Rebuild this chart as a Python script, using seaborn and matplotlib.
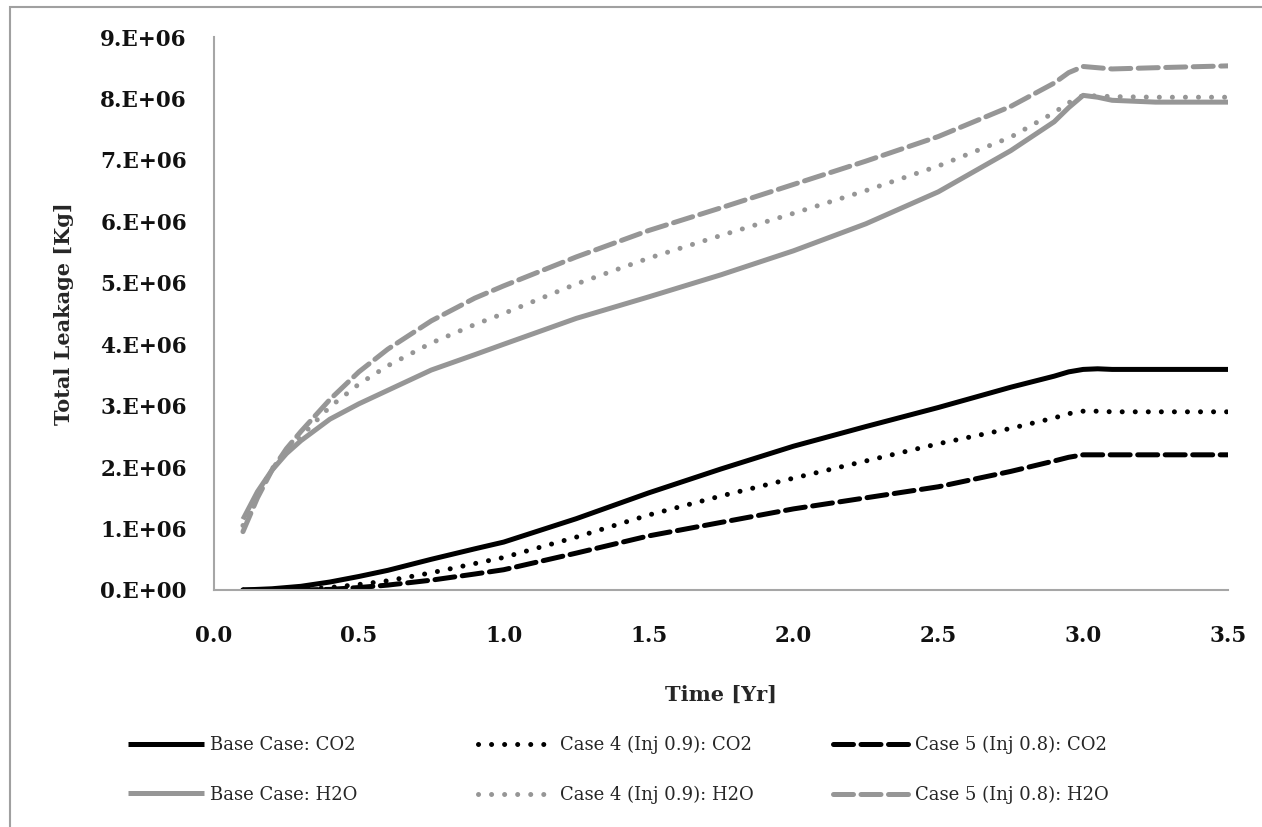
import matplotlib.pyplot as plt
import seaborn as sns
import pandas as pd
from matplotlib.patches import Rectangle
from matplotlib.ticker import FuncFormatter, MultipleLocator

# time axis [yr]
time_yr = [0.1, 0.15, 0.2, 0.25, 0.3, 0.4, 0.5, 0.6, 0.75, 0.9, 1.0, 1.25,
           1.5, 1.75, 2.0, 2.25, 2.5, 2.75, 2.9, 2.95, 3.0, 3.05, 3.1, 3.25, 3.5]

# total leakage [kg] (in millions)
base_co2 = [0.0, 0.01, 0.02, 0.04, 0.06, 0.13, 0.22, 0.32, 0.5, 0.67, 0.78, 1.16,
            1.58, 1.97, 2.34, 2.66, 2.97, 3.3, 3.48, 3.55, 3.59, 3.6, 3.59, 3.59, 3.59]
case4_co2 = [0.0, 0.0, 0.0, 0.0, 0.01, 0.04, 0.09, 0.15, 0.28, 0.43, 0.53, 0.86,
             1.22, 1.53, 1.82, 2.1, 2.38, 2.63, 2.8, 2.87, 2.91, 2.91, 2.9, 2.9, 2.9]
case5_co2 = [0.0, 0.0, 0.0, 0.0, 0.0, 0.01, 0.04, 0.08, 0.16, 0.26, 0.33, 0.6,
             0.88, 1.1, 1.32, 1.5, 1.68, 1.93, 2.1, 2.16, 2.2, 2.2, 2.2, 2.2, 2.2]
base_h2o = [1.15, 1.6, 1.95, 2.22, 2.43, 2.78, 3.03, 3.25, 3.58, 3.83, 4.0, 4.42,
            4.77, 5.13, 5.52, 5.96, 6.48, 7.15, 7.62, 7.85, 8.05, 8.02, 7.97, 7.94, 7.94]
case4_h2o = [1.05, 1.55, 1.97, 2.27, 2.5, 2.98, 3.35, 3.65, 4.02, 4.32, 4.5, 4.98,
             5.4, 5.77, 6.13, 6.5, 6.9, 7.37, 7.77, 7.93, 8.05, 8.04, 8.03, 8.02, 8.02]
case5_h2o = [0.95, 1.5, 1.95, 2.3, 2.58, 3.1, 3.55, 3.92, 4.38, 4.75, 4.95, 5.42,
             5.85, 6.22, 6.6, 6.98, 7.38, 7.87, 8.25, 8.42, 8.52, 8.5, 8.48, 8.5, 8.53]

labels = ["Base Case: CO2", "Base Case: H2O",
          "Case 4 (Inj 0.9): CO2", "Case 4 (Inj 0.9): H2O",
          "Case 5 (Inj 0.8): CO2", "Case 5 (Inj 0.8): H2O"]
series = [base_co2, base_h2o, case4_co2, case4_h2o, case5_co2, case5_h2o]

BLACK = "#000000"
GRAY = "#969696"
DOT = (0, (0.01, 2.6))
DASH = (0, (4.0, 1.5))
styles = [(BLACK, "-"), (GRAY, "-"), (BLACK, DOT), (GRAY, DOT),
          (BLACK, DASH), (GRAY, DASH)]

sns.set_theme(style="white")
plt.rcParams["font.family"] = ["DejaVu Serif"]

fig = plt.figure(figsize=(12.62, 8.27), dpi=100)
ax = fig.add_axes([214 / 1262, 1 - 590 / 827, (1228 - 214) / 1262, (590 - 37) / 827])

handles = []
for lab, vals, (col, ls) in zip(labels, series, styles):
    df = pd.DataFrame({"t": time_yr, "kg": [v * 1e6 for v in vals]})
    sns.lineplot(data=df, x="t", y="kg", ax=ax, color=col, linestyle=ls,
                 linewidth=3.6, dash_capstyle="round", solid_capstyle="butt",
                 solid_joinstyle="round", label=lab, legend=False)
    handles.append(ax.get_lines()[-1])

ax.set_xlim(0, 3.5)
ax.set_ylim(0, 9e6)
ax.xaxis.set_major_locator(MultipleLocator(0.5))
ax.yaxis.set_major_locator(MultipleLocator(1e6))
ax.xaxis.set_major_formatter(FuncFormatter(lambda v, p: f"{v:.1f}"))
ax.yaxis.set_major_formatter(FuncFormatter(lambda v, p: f"{v / 1e6:.0f}.E+06" if v > 0 else "0.E+00"))

for s in ["top", "right"]:
    ax.spines[s].set_visible(False)
for s in ["left", "bottom"]:
    ax.spines[s].set_color("#a6a6a6")
    ax.spines[s].set_linewidth(1.5)
ax.tick_params(axis="both", which="major", direction="out", length=7.5, width=1.5,
               color="#a6a6a6", labelsize=15.5, labelcolor="#111111")
ax.tick_params(axis="x", pad=18)
ax.tick_params(axis="y", pad=12)
for t in ax.get_xticklabels() + ax.get_yticklabels():
    t.set_fontweight("bold")

ax.set_xlabel("Time [Yr]", fontsize=15, fontweight="bold", labelpad=27)
ax.set_ylabel("Total Leakage [Kg]", fontsize=15, fontweight="bold", labelpad=19)

# three legend columns with equal widths
col_x = [128 / 1262, 478 / 1262, 833 / 1262]
for i, x0 in enumerate(col_x):
    fig.legend(handles=handles[2 * i:2 * i + 2], labels=labels[2 * i:2 * i + 2],
               loc="upper left", bbox_to_anchor=(x0, 1 - 736 / 827),
               frameon=False, fontsize=13, handlelength=4.2, handletextpad=0.35,
               labelspacing=1.75, borderaxespad=0, borderpad=0)

# outer chart border (only left and top are inside the crop)
fig.patches.append(Rectangle((10 / 1262, -0.1), 1.2, 0.1 + 1 - 7 / 827,
                             transform=fig.transFigure, fill=False,
                             edgecolor="#a0a0a0", linewidth=1.5))

fig.savefig("out.png", dpi=100)
